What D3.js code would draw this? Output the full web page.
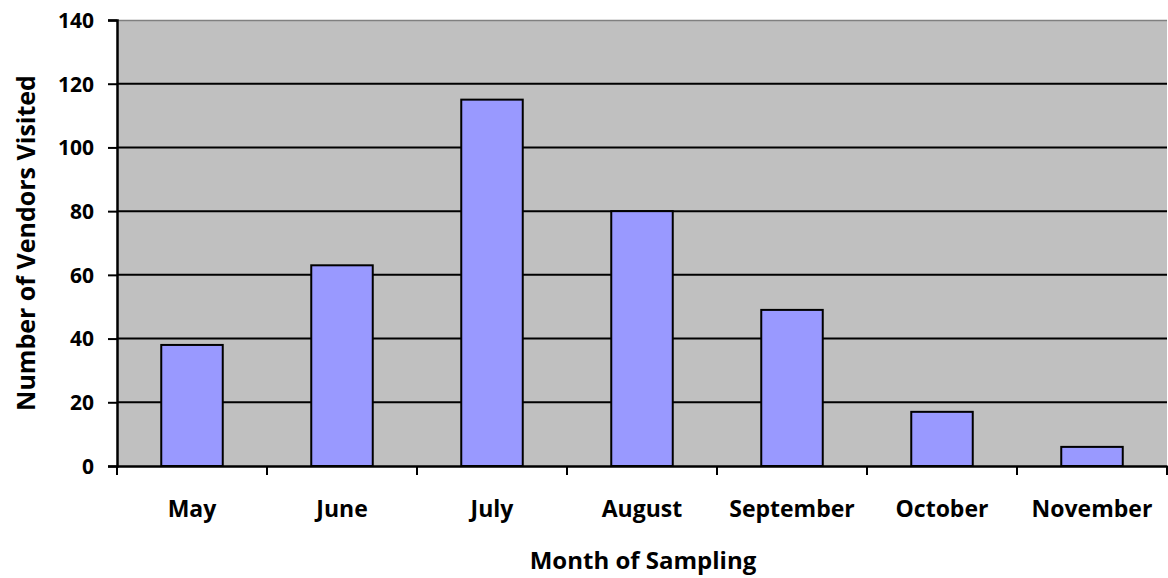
<!DOCTYPE html>
<html><head><meta charset="utf-8">
<script src="https://cdn.jsdelivr.net/npm/d3@7/dist/d3.min.js"></script>
<style>body{margin:0;background:#fff}svg{display:block}text{font-family:"Open Sans",sans-serif;font-weight:700;fill:#000}</style>
</head><body><svg id="c" width="1168" height="578"></svg>
<script>
const months = ["May","June","July","August","September","October","November"];
const vendors = [38,63,115,80,49,17,6];
const yTicks = [0,20,40,60,80,100,120,140];

const svg = d3.select("#c");
const m = {l:117, r:1167, t:20, b:466};
const x = d3.scaleBand().domain(months).range([m.l,m.r]).paddingInner(0.59).paddingOuter(0.295);
const xb = d3.scaleBand().domain(months).range([m.l,m.r]);
const y = d3.scaleLinear().domain([0,140]).range([m.b,m.t]);

svg.append("rect").attr("x",m.l).attr("y",m.t).attr("width",m.r-m.l).attr("height",m.b-m.t).attr("fill","#c0c0c0");
svg.append("line").attr("x1",m.l).attr("x2",m.r).attr("y1",m.t+0.5).attr("y2",m.t+0.5).attr("stroke","#808080").attr("stroke-width",1.5);

svg.selectAll(".grid").data(yTicks.filter(d=>d>0&&d<140)).enter().append("line")
  .attr("x1",m.l).attr("x2",m.r).attr("y1",d=>y(d)).attr("y2",d=>y(d)).attr("stroke","#000").attr("stroke-width",2);

svg.selectAll(".bar").data(vendors).enter().append("rect")
  .attr("x",(d,i)=>x(months[i])).attr("width",x.bandwidth())
  .attr("y",d=>y(d)).attr("height",d=>y(0)-y(d))
  .attr("fill","#9999ff").attr("stroke","#000").attr("stroke-width",2);

const ya = d3.axisLeft(y).tickValues(yTicks).tickSize(9).tickPadding(14);
const yg = svg.append("g").attr("transform",`translate(${m.l},0)`).call(ya);
yg.select(".domain").attr("stroke-width",2.5);
yg.selectAll(".tick line").attr("stroke-width",2);
yg.selectAll("text").style("font-size","21px").attr("dy","0.35em");

const xa = d3.axisBottom(xb).tickSize(0).tickPadding(0).tickFormat("");
const xg = svg.append("g").attr("transform",`translate(0,${m.b})`).call(xa);
xg.select(".domain").attr("stroke-width",2.5);
const bounds = months.map(d=>xb(d)).concat([m.r]);
svg.selectAll(".xt").data(bounds).enter().append("line")
  .attr("x1",d=>d).attr("x2",d=>d).attr("y1",m.b).attr("y2",m.b+9).attr("stroke","#000").attr("stroke-width",2);
svg.selectAll(".xl").data(months).enter().append("text")
  .attr("x",d=>xb(d)+xb.bandwidth()/2).attr("y",517).attr("text-anchor","middle").style("font-size","23px").text(d=>d);

svg.append("text").attr("x",643).attr("y",569).attr("text-anchor","middle").style("font-size","24px").text("Month of Sampling");
svg.append("text").attr("transform","translate(35,243) rotate(-90)").attr("text-anchor","middle").style("font-size","25px").text("Number of Vendors Visited");
</script></body></html>
